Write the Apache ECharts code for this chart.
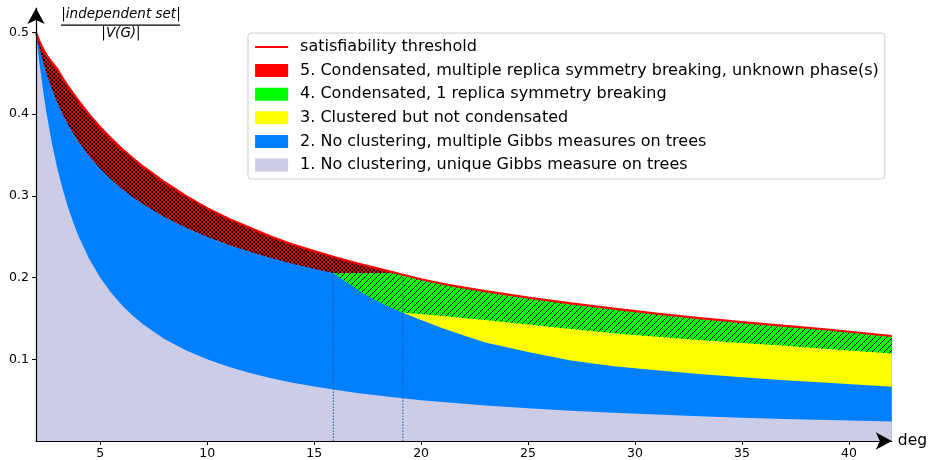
<!DOCTYPE html>
<html><head><meta charset="utf-8">
<script src="https://cdn.jsdelivr.net/npm/echarts@6/dist/echarts.min.js"></script>
<style>html,body{margin:0;padding:0;background:#fff}#c{width:930px;height:460px}</style>
</head><body><div id="c"></div>
<script>
// ---- data ----
const deg = [2, 2.1, 2.2, 2.35, 2.5, 2.75, 3, 3.25, 3.5, 3.75, 4, 4.5, 5, 5.5, 6, 6.5, 7, 8, 9, 10, 11, 12, 13, 14, 15, 15.9, 17, 18, 18.7, 19.15, 20, 21, 22, 23, 25, 27, 29, 31, 33, 35, 37, 39, 42];
const satThreshold = [0.5, 0.493, 0.487, 0.479, 0.472, 0.463, 0.455, 0.444, 0.434, 0.425, 0.416, 0.399, 0.384, 0.3705, 0.358, 0.3465, 0.336, 0.317, 0.300, 0.285, 0.272, 0.261, 0.250, 0.2405, 0.2325, 0.2255, 0.2175, 0.211, 0.2065, 0.2035, 0.198, 0.1925, 0.1878, 0.1835, 0.1755, 0.1685, 0.162, 0.156, 0.1505, 0.1455, 0.141, 0.1365, 0.1285];
const uniqueTop = [0.5, 0.476, 0.4545, 0.4255, 0.4, 0.3636, 0.3333, 0.3077, 0.2857, 0.2667, 0.25, 0.2222, 0.2, 0.1818, 0.1667, 0.1538, 0.1429, 0.125, 0.1111, 0.1, 0.0909, 0.0833, 0.0769, 0.0714, 0.0667, 0.0629, 0.0588, 0.0556, 0.0535, 0.0522, 0.05, 0.0476, 0.0455, 0.0435, 0.04, 0.037, 0.0345, 0.0323, 0.0303, 0.0286, 0.027, 0.0256, 0.0238];

const noClusterDeg = [2, 2.1, 2.2, 2.35, 2.5, 2.75, 3, 3.25, 3.5, 3.75, 4, 4.5, 5, 5.5, 6, 6.5, 7, 8, 9, 10, 11, 12, 13, 14, 15, 15.9, 16.7, 17.5, 18.3, 19.15, 20, 21, 22, 23, 25, 27, 29, 31, 33, 35, 37, 39, 42];
const noClusterTop = [0.5, 0.488, 0.477, 0.4626, 0.4495, 0.4305, 0.4142, 0.4, 0.3874, 0.3762, 0.366, 0.3483, 0.3333, 0.3204, 0.309, 0.2989, 0.290, 0.2743, 0.2612, 0.250, 0.2403, 0.2317, 0.224, 0.2171, 0.2109, 0.2055, 0.191, 0.1775, 0.1665, 0.157, 0.148, 0.138, 0.129, 0.1205, 0.109, 0.0985, 0.0915, 0.0865, 0.082, 0.078, 0.0745, 0.0712, 0.0665];

const clusteredDeg = [19.15, 20, 21, 22, 23, 25, 27, 29, 31, 33, 35, 37, 39, 42];
const clusteredTop = [0.157, 0.1555, 0.153, 0.1505, 0.148, 0.1425, 0.137, 0.132, 0.1275, 0.1235, 0.120, 0.1165, 0.1125, 0.107];

const oneRsbFlatDeg = [15.9, 18.85];
const oneRsbFlatTop = [0.2055, 0.2055];

const transitionDeg = [15.9, 19.15];

const xTicks = [5, 10, 15, 20, 25, 30, 35, 40];
const yTicks = [0.1, 0.2, 0.3, 0.4, 0.5];

const names = {
  sat: 'satisfiability threshold',
  p5: '5. Condensated, multiple replica symmetry breaking, unknown phase(s)',
  p4: '4. Condensated, 1 replica symmetry breaking',
  p3: '3. Clustered but not condensated',
  p2: '2. No clustering, multiple Gibbs measures on trees',
  p1: '1. No clustering, unique Gibbs measure on trees'
};
const colors = { sat: '#ff0000', p5: '#ff0000', p4: '#00ff00', p3: '#ffff00', p2: '#0080ff', p1: '#cccce6' };

// ---- helpers ----
const pairs = (xs, ys) => xs.map((x, i) => [x, ys[i]]);
function hatch(bg, cross) {
  const s = cross ? 4 : 6;
  const c = document.createElement('canvas');
  c.width = s; c.height = s;
  const g = c.getContext('2d');
  g.fillStyle = bg; g.fillRect(0, 0, s, s);
  g.strokeStyle = '#000'; g.lineWidth = 1;
  g.beginPath();
  g.moveTo(-1, s + 1); g.lineTo(s + 1, -1);
  g.moveTo(-1, 1); g.lineTo(1, -1);
  g.moveTo(s - 1, s + 1); g.lineTo(s + 1, s - 1);
  if (cross) {
    g.moveTo(-1, -1); g.lineTo(s + 1, s + 1);
    g.moveTo(s - 1, -1); g.lineTo(s + 1, 1);
    g.moveTo(-1, s - 1); g.lineTo(1, s + 1);
  }
  g.stroke();
  return c;
}

const satPts = pairs(deg, satThreshold);
const oneRsbPts = pairs(oneRsbFlatDeg, oneRsbFlatTop).concat(satPts.filter(p => p[0] > oneRsbFlatDeg[oneRsbFlatDeg.length - 1]));

function area(name, data, color, fill, z) {
  return {
    name, type: 'line', data, color, z,
    symbol: 'none', showSymbol: false, silent: true,
    lineStyle: { width: 0, color },
    areaStyle: { color: fill, opacity: 1, origin: 'start' }
  };
}

const series = [
  area(names.p5, satPts, colors.p5, { image: hatch(colors.p5, true), repeat: 'repeat' }, 1),
  area(names.p4, oneRsbPts, colors.p4, { image: hatch(colors.p4, false), repeat: 'repeat' }, 2),
  area(names.p3, pairs(clusteredDeg, clusteredTop), colors.p3, colors.p3, 3),
  area(names.p2, pairs(noClusterDeg, noClusterTop), colors.p2, colors.p2, 4),
  area(names.p1, pairs(deg, uniqueTop), colors.p1, colors.p1, 5)
];
transitionDeg.forEach((d, k) => {
  const i = deg.indexOf(d);
  series.push({
    name: 'transition' + k, type: 'line', z: 6, symbol: 'none', silent: true,
    data: [[d, 0], [d, satThreshold[i]]],
    lineStyle: { color: '#1f5fa0', width: 1, type: [1.5, 1.5] }
  });
});
series.push({
  name: names.sat, type: 'line', z: 7, symbol: 'none', showSymbol: false, silent: true,
  data: satPts, color: colors.sat,
  lineStyle: { color: colors.sat, width: 2.2 }
});

const font = 'DejaVu Sans';
const chart = echarts.init(document.getElementById('c'), null, { renderer: 'canvas' });
chart.setOption({
  animation: false,
  backgroundColor: '#fff',
  grid: { left: 36, right: 38, top: 8, bottom: 19, containLabel: false },
  xAxis: {
    type: 'value', min: 2, max: 42, z: 10,
    name: 'deg', nameLocation: 'end', nameGap: 6,
    nameTextStyle: { fontFamily: font, fontSize: 15.5, color: '#000', verticalAlign: 'middle' },
    axisLine: { show: true, onZero: false, symbol: ['none', 'arrow'], symbolSize: [13, 16], lineStyle: { color: '#000', width: 1.2 } },
    axisTick: { show: true, length: 4, customValues: xTicks, lineStyle: { color: '#000', width: 1 } },
    axisLabel: { customValues: xTicks, margin: 6, fontFamily: font, fontSize: 12.5, color: '#000' },
    splitLine: { show: false }
  },
  yAxis: {
    type: 'value', min: 0, max: 0.53, z: 10,
    axisLine: { show: true, onZero: false, symbol: ['none', 'arrow'], symbolSize: [13, 16], lineStyle: { color: '#000', width: 1.2 } },
    axisTick: { show: true, length: 4, customValues: yTicks, lineStyle: { color: '#000', width: 1 } },
    axisLabel: { customValues: yTicks, margin: 7, fontFamily: font, fontSize: 12.5, color: '#000', formatter: v => v.toFixed(1) },
    splitLine: { show: false }
  },
  legend: {
    orient: 'vertical', left: 248, top: 33, padding: [6, 6, 6, 6],
    itemWidth: 33, itemHeight: 13, itemGap: 7.6,
    backgroundColor: '#fff', borderColor: '#d0d0d0', borderWidth: 1, borderRadius: 3,
    selectedMode: false,
    textStyle: { fontFamily: font, fontSize: 16, lineHeight: 16, color: '#000', padding: [0, 0, 0, 7] },
    data: [
      { name: names.sat, itemStyle: { color: 'rgba(0,0,0,0)', borderColor: 'rgba(0,0,0,0)', borderWidth: 0 }, lineStyle: { color: colors.sat, width: 2.2 } },
      { name: names.p5, icon: 'rect', itemStyle: { color: colors.p5, borderWidth: 0 } },
      { name: names.p4, icon: 'rect', itemStyle: { color: colors.p4, borderWidth: 0 } },
      { name: names.p3, icon: 'rect', itemStyle: { color: colors.p3, borderWidth: 0 } },
      { name: names.p2, icon: 'rect', itemStyle: { color: colors.p2, borderWidth: 0 } },
      { name: names.p1, icon: 'rect', itemStyle: { color: colors.p1, borderWidth: 0 } }
    ]
  },
  graphic: [
    { type: 'text', x: 121, y: 14.5, style: { text: '|independent set|', font: 'italic 13.5px "DejaVu Sans"', fill: '#000', align: 'center', verticalAlign: 'middle' } },
    { type: 'rect', shape: { x: 61, y: 24.4, width: 119, height: 1.4 }, style: { fill: '#000' } },
    { type: 'text', x: 121, y: 33.5, style: { text: '|V(G)|', font: 'italic 13.5px "DejaVu Sans"', fill: '#000', align: 'center', verticalAlign: 'middle' } }
  ],
  series
});
</script></body></html>
